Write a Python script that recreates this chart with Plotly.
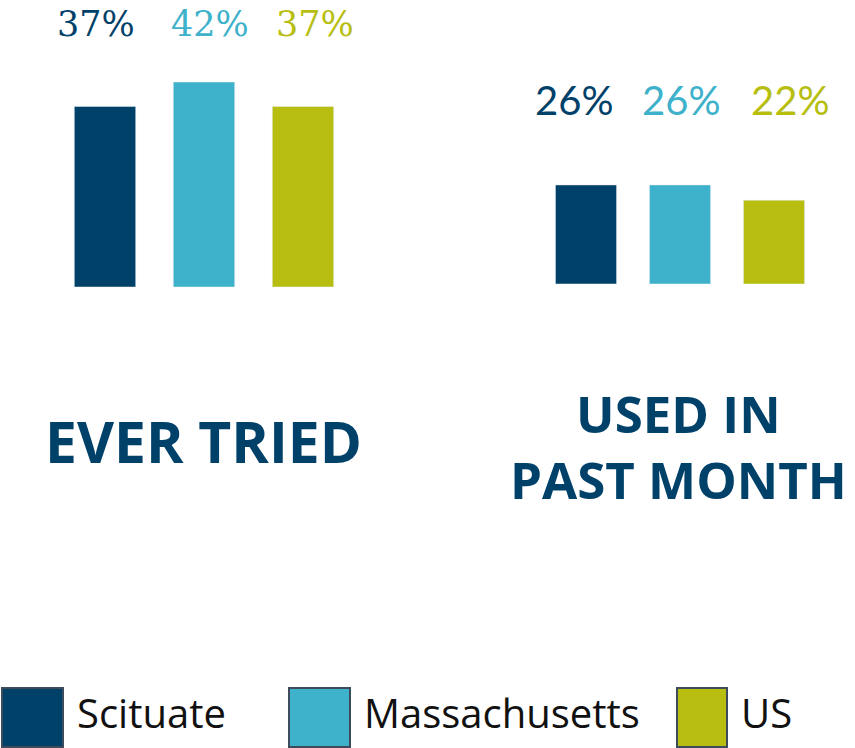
import plotly.graph_objects as go

# data
regions = ["Scituate", "Massachusetts", "US"]
colors = ["#00416a", "#3eb1cb", "#b7be10"]
ever_tried = [37, 42, 37]
past_month = [26, 26, 22]
titles = ["EVER TRIED", "USED IN<br>PAST MONTH"]

W, H = 855, 748

fig = go.Figure()

# one bar trace per measure, each on its own axis pair
fig.add_trace(go.Bar(x=regions, y=ever_tried, marker_color=colors, width=0.62,
                     xaxis="x", yaxis="y", showlegend=False, hoverinfo="skip"))
fig.add_trace(go.Bar(x=regions, y=past_month, marker_color=colors, width=0.65,
                     xaxis="x2", yaxis="y2", showlegend=False, hoverinfo="skip"))

annotations = []

# percentage labels sit on a fixed line above each group, spread a bit wider than the bars
left_shift = [-9, 6, 12]
right_shift = [-12, 1, 16]
for reg, val, col, dx in zip(regions, ever_tried, colors, left_shift):
    annotations.append(dict(
        x=reg, xref="x", y=(H - 24) / H, yref="paper", text=f"{val}%", xshift=dx,
        showarrow=False, xanchor="center", yanchor="middle",
        font=dict(family="DejaVu Serif", size=35, color=col)))
for reg, val, col, dx in zip(regions, past_month, colors, right_shift):
    annotations.append(dict(
        x=reg, xref="x2", y=(H - 100) / H, yref="paper", text=f"{val}%", xshift=dx,
        showarrow=False, xanchor="center", yanchor="middle",
        font=dict(family="Lato", size=40, color=col)))

# group titles
annotations.append(dict(
    x=203 / W, y=(H - 441) / H, xref="paper", yref="paper", text="<b>" + titles[0] + "</b>",
    showarrow=False, xanchor="center", yanchor="middle",
    font=dict(family="Open Sans", size=57, color="#00416a")))
annotations.append(dict(
    x=678 / W, y=(H - 446) / H, xref="paper", yref="paper", text="<b>" + titles[1] + "</b>",
    showarrow=False, xanchor="center", yanchor="middle", align="center",
    font=dict(family="Open Sans", size=51, color="#00416a")))

# legend built from squares and names
legend_x = [2, 289, 677]
legend_w = [61, 61, 50]
shapes = []
for reg, col, lx, lw in zip(regions, colors, legend_x, legend_w):
    shapes.append(dict(
        type="rect", xref="paper", yref="paper",
        x0=lx / W, x1=(lx + lw) / W, y0=(H - 747) / H, y1=(H - 688) / H,
        fillcolor=col, line=dict(color="#3d4b5c", width=2)))
    annotations.append(dict(
        x=(lx + lw + 12) / W, y=(H - 712) / H, xref="paper", yref="paper", text=reg,
        showarrow=False, xanchor="left", yanchor="middle",
        font=dict(family="Open Sans", size=40, color="#111111")))

fig.update_layout(
    width=W, height=H,
    margin=dict(l=0, r=0, t=0, b=0),
    paper_bgcolor="white", plot_bgcolor="white",
    xaxis=dict(domain=[55.5 / W, 352.5 / W], visible=False, range=[-0.5, 2.5]),
    yaxis=dict(domain=[461 / H, 705 / H], visible=False, range=[0, 50]),
    xaxis2=dict(domain=[539 / W, 821 / W], visible=False, range=[-0.5, 2.5]),
    yaxis2=dict(domain=[464 / H, 654.5 / H], visible=False, range=[0, 50]),
    annotations=annotations,
    shapes=shapes,
)

# drop the browser's default page margin so the figure fills the window
fig.write_html("out.html", config={"displayModeBar": False},
               post_script="document.body.style.margin='0';")
